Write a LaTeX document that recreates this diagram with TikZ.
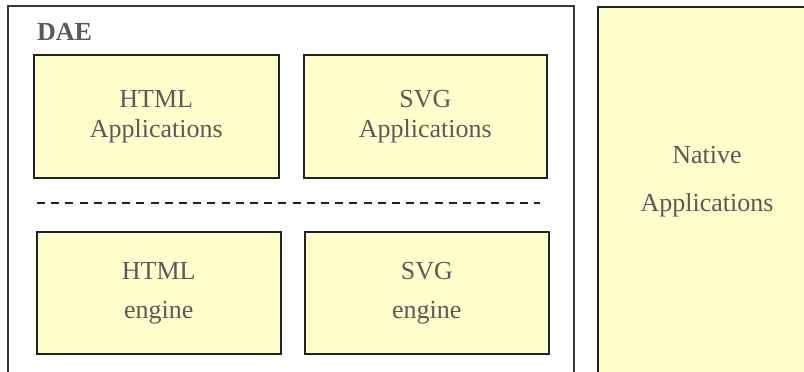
\documentclass[tikz,border=0pt]{standalone}
\usepackage{fontspec}
\setmainfont{Liberation Serif}
\usepackage{tikz}
\usepackage{xcolor}
\definecolor{boxyellow}{HTML}{FFFFCC}
\definecolor{textgray}{HTML}{5A5A5A}
\definecolor{edgegray}{HTML}{222222}
\tikzset{
    yellow-box/.style = {draw=edgegray, fill=boxyellow, line width=1.6pt, rectangle, anchor=north west, inner sep=0pt, align=center, text=textgray, font=\fontsize{26}{30}\selectfont},
    dae-box/.style = {draw=edgegray!90, fill=white, line width=1.6pt, rectangle, anchor=north west, inner sep=0pt},
    dae-title/.style = {text=textgray, font=\fontsize{26}{30}\selectfont\bfseries, anchor=base west, inner sep=0pt},
    layer-rule/.style = {draw=edgegray, line width=1.8pt, dash pattern=on 8pt off 6.2pt},
}

\begin{document}
\begin{tikzpicture}[x=1pt, y=-1pt]
\useasboundingbox (0,0) rectangle (804,372);
\clip (0,0) rectangle (804,372);
\node [dae-box, minimum width=566pt, minimum height=400pt] (dae) at (7,5) {};
\node [dae-title] (dae-label) at (37,40.7) {DAE};
\node [yellow-box, minimum width=245pt, minimum height=123pt] (html-app) at (33,54) {HTML\\Applications};
\node [yellow-box, minimum width=243pt, minimum height=123pt] (svg-app) at (303,54) {SVG\\Applications};
\coordinate (rule-start) at (37,203);
\coordinate (rule-end) at (540,203);
\draw [layer-rule] (rule-start) -- (rule-end);
\node [yellow-box, minimum width=244pt, minimum height=122pt, font=\fontsize{26}{39}\selectfont] (html-engine) at (36,231) {HTML\\engine};
\node [yellow-box, minimum width=244pt, minimum height=122pt, font=\fontsize{26}{39}\selectfont] (svg-engine) at (304,231) {SVG\\engine};
\node [yellow-box, minimum width=300pt, minimum height=400pt] (native) at (597,6) {};
\node [align=center, text=textgray, font=\fontsize{26}{48}\selectfont, inner sep=0pt] (native-label) at (707,182) {Native\\Applications};
\end{tikzpicture}
\end{document}
